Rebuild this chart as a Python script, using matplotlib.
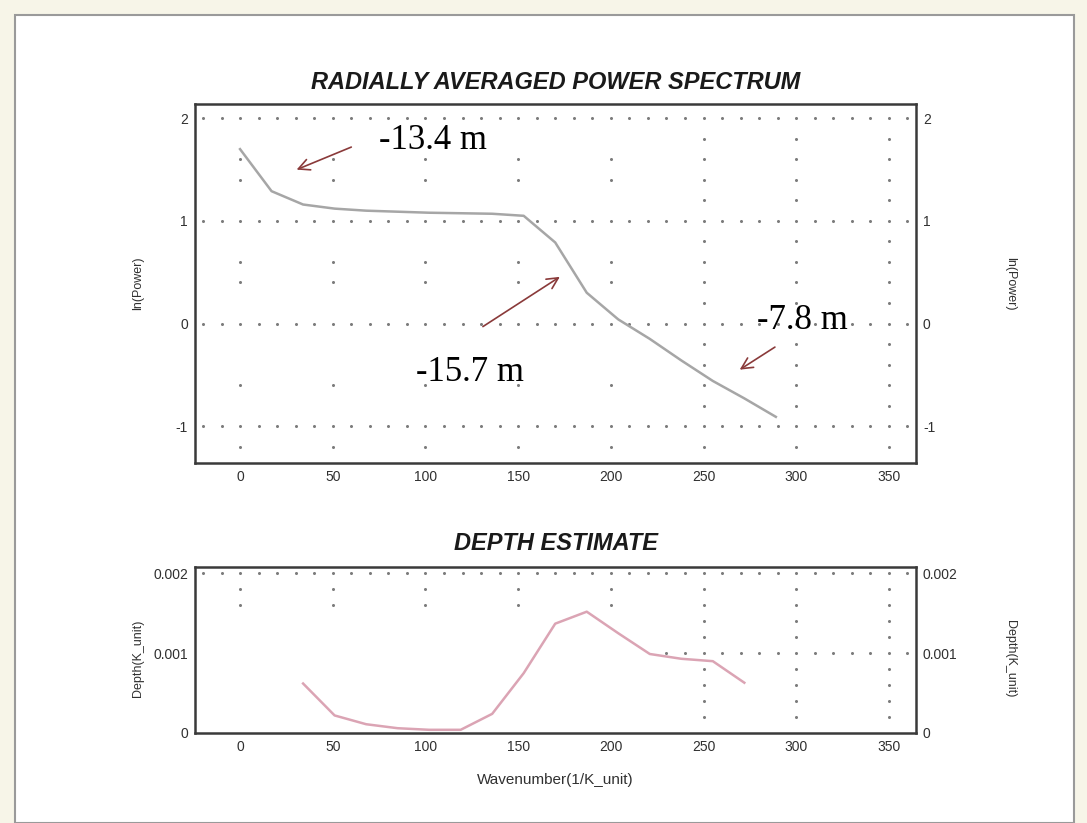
import numpy as np
import matplotlib
matplotlib.use('Agg')
import matplotlib.pyplot as plt
from matplotlib.patches import Rectangle

plt.rcParams['axes.unicode_minus'] = False
plt.rcParams['font.family'] = ['Liberation Sans', 'DejaVu Sans']

# spectrum curve
wavenumber = [0, 17, 34, 51, 68, 85, 102, 119, 136, 153, 170, 187, 204, 221, 238, 255, 272, 289]
ln_power = [1.70, 1.29, 1.16, 1.12, 1.10, 1.09, 1.08, 1.075, 1.07, 1.05, 0.79, 0.30, 0.04,
            -0.15, -0.36, -0.56, -0.73, -0.91]

# depth estimate curve
depth_k = [34, 51, 68, 85, 102, 119, 136, 153, 170, 187, 204, 221, 238, 255, 272]
depth = [0.00062, 0.00022, 0.00011, 0.00006, 0.00004, 0.00004, 0.00024, 0.00075, 0.00137,
         0.00152, 0.00125, 0.00099, 0.00093, 0.00090, 0.00063]

xticks = [0, 50, 100, 150, 200, 250, 300, 350]
power_ticks = [-1, 0, 1, 2]
depth_ticks = [0, 0.001, 0.002]
depth_ticklabels = ['0', '0.001', '0.002']

# annotations: text, text pos, arrow tail, arrow head
notes = [('-13.4 m', (104, 1.78), (60, 1.72), (30.5, 1.50)),
         ('-15.7 m', (124, -0.48), (131, -0.03), (172.5, 0.455)),
         ('-7.8 m', (303.5, 0.03), (288.5, -0.23), (269.5, -0.45))]

# dotted grid as drawn by the original program
row_x = np.arange(-20, 361, 10)
col_y_full_top = [v for v in np.round(np.arange(-1.2, 2.01, 0.2), 1) if v % 1 != 0]
col_y_part_top = [1.6, 1.4, 0.6, 0.4, -0.6, -1.2]
col_y_full_bot = [0.0002, 0.0004, 0.0006, 0.0008, 0.0012, 0.0014, 0.0016, 0.0018]
col_y_part_bot = [0.0016, 0.0018]

grid_col = '#7c7c7c'
frame_col = '#3a3a3a'
txt_col = '#303030'

fig = plt.figure(figsize=(10.87, 8.23), dpi=100)
fig.patch.set_facecolor('#f7f5e8')
panel = Rectangle((15/1087, 0), (1074-15)/1087, 1-15/823, transform=fig.transFigure,
                  facecolor='white', edgecolor='#9a9a9a', lw=1.5, zorder=-10)
fig.patches.append(panel)

ax1 = fig.add_axes([195/1087, 1-463/823, 721/1087, 359/823])
ax2 = fig.add_axes([195/1087, 1-733/823, 721/1087, 166/823])

def dots(ax, xs, ys):
    ax.plot(xs, ys, 'o', ms=2.2, mew=0, color=grid_col, zorder=1)

# grid top
for y in power_ticks:
    dots(ax1, row_x, [y]*len(row_x))
for x in xticks:
    ys = col_y_full_top if x >= 250 else col_y_part_top
    dots(ax1, [x]*len(ys), ys)
# grid bottom
dots(ax2, row_x, [0.002]*len(row_x))
rx = row_x[row_x >= 230]
dots(ax2, rx, [0.001]*len(rx))
for x in xticks:
    ys = col_y_full_bot if x >= 250 else col_y_part_bot
    dots(ax2, [x]*len(ys), ys)

ax1.plot(wavenumber, ln_power, color='#a6a6a6', lw=1.8, zorder=3)
ax2.plot(depth_k, depth, color='#dba4b4', lw=1.8, zorder=3)

for label, tpos, tail, head in notes:
    ax1.text(tpos[0], tpos[1], label, fontsize=25, family='Liberation Serif',
             ha='center', va='center', zorder=5)
    ax1.annotate('', xy=head, xytext=tail,
                 arrowprops=dict(arrowstyle='->', color='#8a3a3a', lw=1.2,
                                 mutation_scale=20, shrinkA=0, shrinkB=0), zorder=5)

for ax, yl, yt in [(ax1, (-1.36, 2.14), power_ticks), (ax2, (0, 0.00208), depth_ticks)]:
    ax.set_xlim(-24.3, 364.6)
    ax.set_ylim(*yl)
    ax.set_xticks(xticks)
    ax.set_yticks(yt)
    ax.tick_params(length=0, labelsize=10, labelcolor=txt_col, pad=5,
                   labelright=True)
    for s in ax.spines.values():
        s.set_color(frame_col)
        s.set_linewidth(1.8)

ax2.set_yticklabels(depth_ticklabels)

ax1.set_title('RADIALLY AVERAGED POWER SPECTRUM', fontsize=17, fontweight='bold',
              style='italic', color='#1a1a1a', pad=11)
ax2.set_title('DEPTH ESTIMATE', fontsize=17, fontweight='bold', style='italic',
              color='#1a1a1a', pad=12)

# y labels on both sides
for ax, lab, yc in [(ax1, 'ln(Power)', 0.5), (ax2, 'Depth(K_unit)', 0.45)]:
    ax.set_ylabel(lab, fontsize=9, color=txt_col)
    ax.yaxis.set_label_coords(-0.071, yc)
    ax.text(1.13, yc, lab, fontsize=9, color=txt_col, rotation=270,
            ha='center', va='center', transform=ax.transAxes)

ax2.set_xlabel('Wavenumber(1/K_unit)', fontsize=11, color=txt_col, labelpad=14)

fig.savefig('out.png', dpi=100, facecolor=fig.get_facecolor())
